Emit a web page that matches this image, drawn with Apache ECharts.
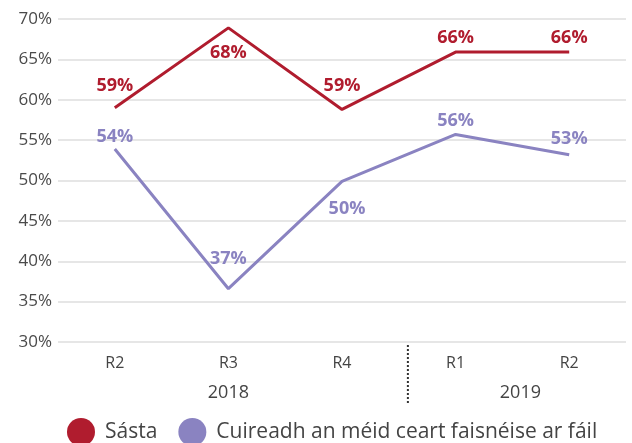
<!DOCTYPE html>
<html><head><meta charset="utf-8">
<script src="https://cdn.jsdelivr.net/npm/echarts@6/dist/echarts.min.js"></script>
<style>html,body{margin:0;padding:0;background:#fff}#c{width:632px;height:443px}</style>
</head><body><div id="c"></div>
<script>
var categories = ['R2', 'R3', 'R4', 'R1', 'R2'];
var years = ['2018', '2019'];
var seriesNames = ['Sásta', 'Cuireadh an méid ceart faisnéise ar fáil'];
var sastaValues = [59.0, 68.9, 58.8, 65.9, 65.9];
var sastaLabels = ['59%', '68%', '59%', '66%', '66%'];
var infoValues = [53.9, 36.6, 49.9, 55.7, 53.2];
var infoLabels = ['54%', '37%', '50%', '56%', '53%'];
var yTicks = [30, 35, 40, 45, 50, 55, 60, 65, 70];

var RED = '#b01c2e', PURPLE = '#8a83c1';
var FONT = '"Open Sans", "Noto Sans", sans-serif';

var sastaLabelStyle = [['top',13,0],['bottom',16,0],['top',15,0],['top',5,0],['top',5,0]];
var infoLabelStyle = [['top',3,0],['top',21,0],['bottom',19,5],['top',5,0],['top',7,0]];

function buildData(vals, labels, styles) {
  return vals.map(function (v, i) {
    return { value: v, label: { formatter: labels[i], position: styles[i][0], distance: styles[i][1], offset: [styles[i][2], 0] } };
  });
}

var chart = echarts.init(document.getElementById('c'));
chart.setOption({
  animation: false,
  textStyle: { fontFamily: FONT },
  grid: { left: 58, right: 6, top: 19, bottom: 101, containLabel: false },
  legend: {
    data: [{ name: seriesNames[0], icon: 'circle' }, { name: seriesNames[1], icon: 'circle' }],
    left: 67, top: 418, itemWidth: 28, itemHeight: 28, itemGap: 21, padding: 0,
    textStyle: { fontSize: 21, color: '#444', fontFamily: FONT, padding: [0, 0, 0, 5] }
  },
  xAxis: {
    type: 'category', data: categories, boundaryGap: true,
    axisLine: { show: false }, axisTick: { show: false },
    axisLabel: { fontSize: 16, color: '#444', margin: 13, fontFamily: FONT }
  },
  yAxis: {
    type: 'value', min: yTicks[0], max: yTicks[yTicks.length - 1], interval: 5,
    axisLine: { show: false }, axisTick: { show: false },
    axisLabel: { fontSize: 17, color: '#4a4a4a', margin: 6, formatter: '{value}%', fontFamily: FONT },
    splitLine: { lineStyle: { color: '#e6e6e6', width: 2 } }
  },
  series: [
    { name: seriesNames[0], type: 'line', data: buildData(sastaValues, sastaLabels, sastaLabelStyle),
      color: RED, symbol: 'circle', symbolSize: 0.1, showSymbol: true, lineStyle: { width: 3, color: RED },
      label: { show: true, color: RED, fontSize: 18, fontWeight: 'bold', fontFamily: FONT } },
    { name: seriesNames[1], type: 'line', data: buildData(infoValues, infoLabels, infoLabelStyle),
      color: PURPLE, symbol: 'circle', symbolSize: 0.1, showSymbol: true, lineStyle: { width: 3, color: PURPLE },
      label: { show: true, color: PURPLE, fontSize: 18, fontWeight: 'bold', fontFamily: FONT } }
  ]
});

function px(i) { return chart.convertToPixel({ xAxisIndex: 0 }, i); }
var sepX = px(2) + (px(3) - px(2)) * 0.58;
var y0 = chart.convertToPixel({ yAxisIndex: 0 }, yTicks[0]);
chart.setOption({
  graphic: [
    { type: 'line', shape: { x1: sepX, y1: y0 + 3, x2: sepX, y2: y0 + 61 },
      style: { stroke: '#333', lineWidth: 2, lineDash: [2, 2] } },
    { type: 'text', x: px(1), y: y0 + 51, style: { text: years[0], fill: '#444', font: '18px ' + FONT, textAlign: 'center', textVerticalAlign: 'middle' } },
    { type: 'text', x: (px(3) + px(4)) / 2 + 8, y: y0 + 51, style: { text: years[1], fill: '#444', font: '18px ' + FONT, textAlign: 'center', textVerticalAlign: 'middle' } }
  ]
});
</script></body></html>
